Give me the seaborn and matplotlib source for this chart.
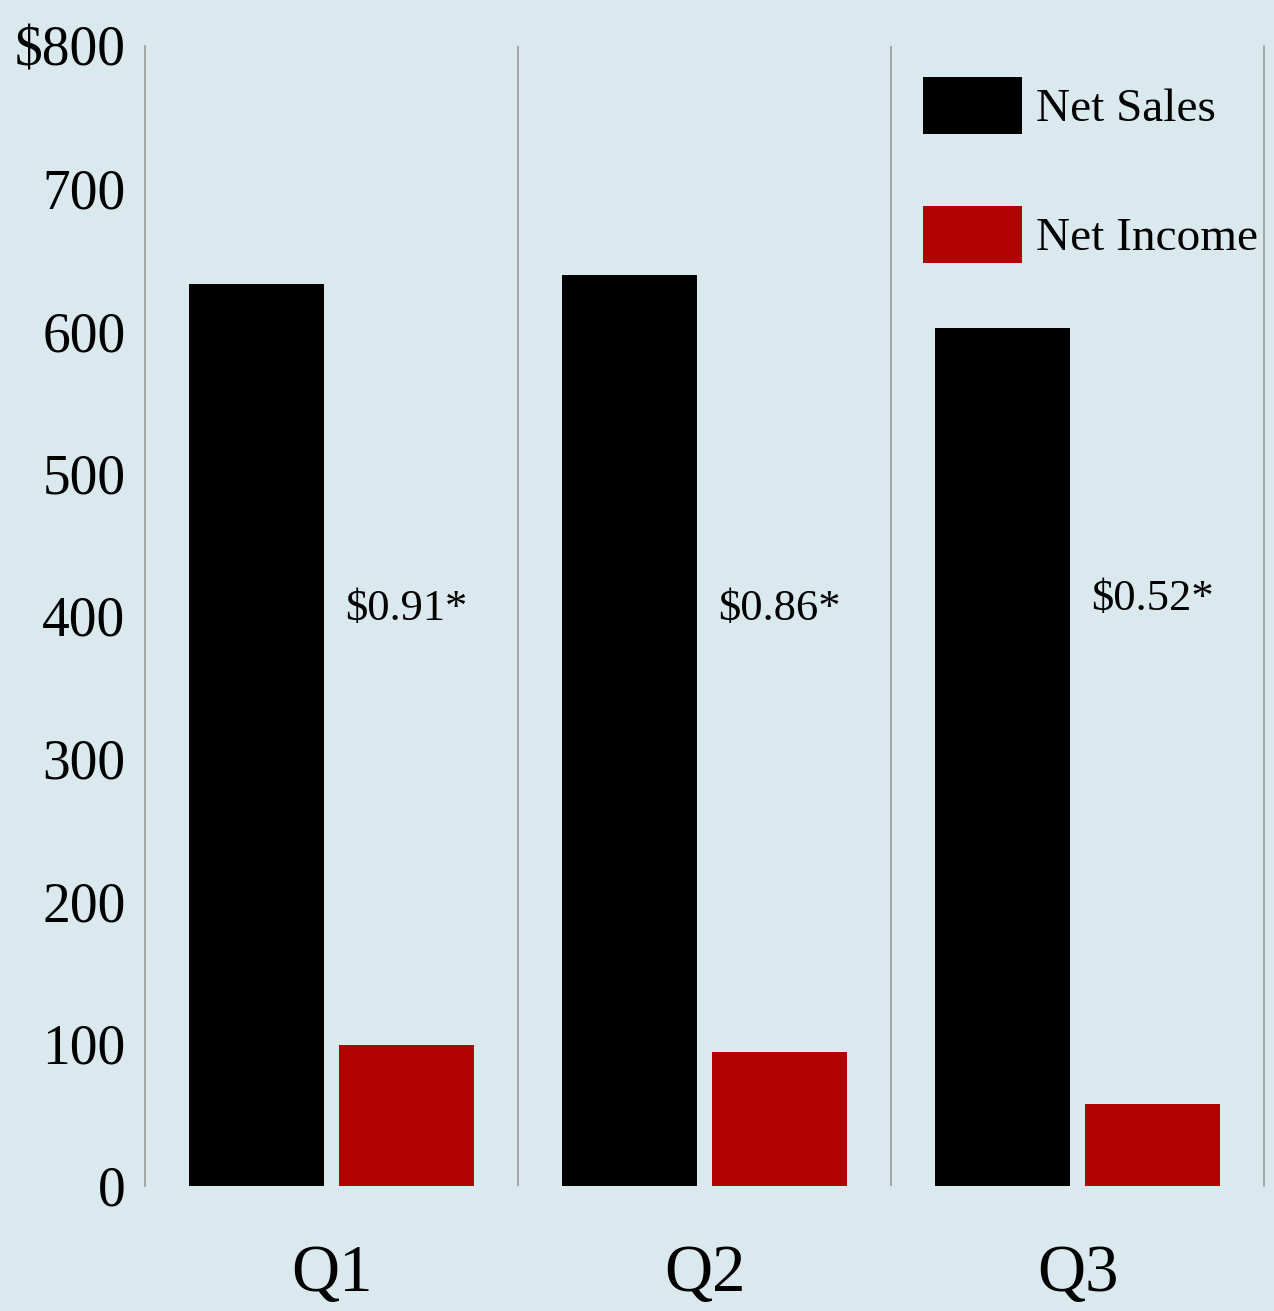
import numpy as np
import pandas as pd
import matplotlib
matplotlib.use('Agg')
import matplotlib.pyplot as plt
from matplotlib.patches import Patch
import seaborn as sns

# data
quarters = ['Q1', 'Q2', 'Q3']
net_sales = [633, 639, 602]
net_income = [99, 94, 57.5]
eps_labels = ['$0.91*', '$0.86*', '$0.52*']
eps_y = [405, 405, 412]
y_ticks = [0, 100, 200, 300, 400, 500, 600, 700, 800]
y_tick_labels = ['0', '100', '200', '300', '400', '500', '600', '700', '$800']

df = pd.DataFrame({
    'quarter': quarters * 2,
    'value': net_sales + net_income,
    'series': ['Net Sales'] * 3 + ['Net Income'] * 3,
})

bg = '#dae9ee'
colors = ['#000000', '#b30000']

sns.set_style('white')
plt.rcParams['font.family'] = ['Liberation Serif', 'DejaVu Serif']
plt.rcParams['text.color'] = 'black'
plt.rcParams['xtick.color'] = 'black'
plt.rcParams['ytick.color'] = 'black'

fig = plt.figure(figsize=(12.74, 13.11), dpi=100, facecolor=bg)
ax = fig.add_axes([145 / 1274, 1 - 1186 / 1311, (1264 - 145) / 1274, (1186 - 46) / 1311])
ax.set_facecolor(bg)

sns.barplot(data=df, x='quarter', y='value', hue='series', palette=colors,
            width=0.8, gap=0.095, saturation=1, legend=False, linewidth=0, ax=ax)

ax.set_xlim(-0.5, 2.5)
ax.set_ylim(0, 800)
ax.set_yticks(y_ticks)
ax.set_yticklabels(y_tick_labels)
ax.set_xlabel('')
ax.set_ylabel('')
ax.tick_params(axis='y', length=0, pad=14, labelsize=40, labelcolor='black')
ax.tick_params(axis='x', length=0, pad=42, labelsize=48, labelcolor='black')

# separators between quarters
for s in ['top', 'bottom']:
    ax.spines[s].set_visible(False)
for s in ['left', 'right']:
    ax.spines[s].set_color('#999999')
    ax.spines[s].set_linewidth(1.2)
for xv in [0.5, 1.5]:
    ax.axvline(xv, color='#999999', lw=1.2)

# EPS notes
for i, (txt, yv) in enumerate(zip(eps_labels, eps_y)):
    ax.text(i + 0.2, yv, txt, ha='center', va='center', fontsize=32, color='black')

handles = [Patch(facecolor=colors[0], linewidth=0), Patch(facecolor=colors[1], linewidth=0)]
fig.legend(handles, ['Net Sales', 'Net Income'], loc='upper left',
           bbox_to_anchor=(923 / 1274, 1 - 77 / 1311), frameon=False,
           fontsize=34, handlelength=2.1, handleheight=1.48,
           handletextpad=0.3, labelspacing=1.52, borderpad=0, borderaxespad=0)

fig.savefig('out.png', dpi=100, facecolor=bg)
